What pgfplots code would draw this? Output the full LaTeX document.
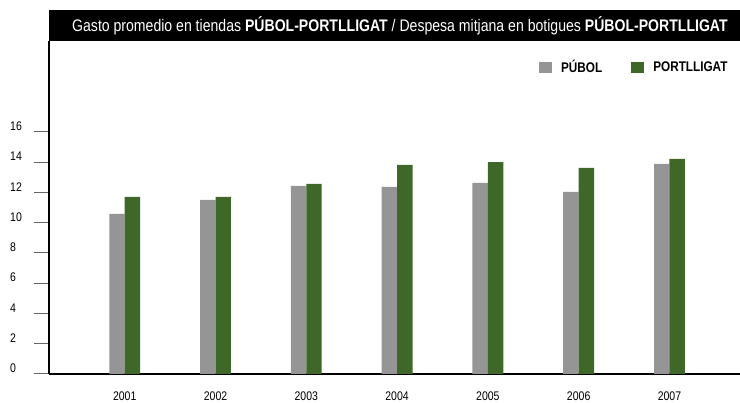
\documentclass[border=0pt]{standalone}
\usepackage{pgfplots}
\pgfplotsset{compat=1.18}
\usepackage{fontspec}
\setmainfont{Liberation Sans}[FakeStretch=0.84]
\definecolor{pgray}{RGB}{149,149,149}
\definecolor{pgreen}{RGB}{63,103,39}
\begin{document}
\begin{tikzpicture}[x=1pt,y=1pt]
\path[use as bounding box] (0,0) rectangle (740,403);
\fill[black] (49,362) rectangle (740,393);
\node[anchor=base west, inner sep=0pt, text=white, font=\fontsize{16.75}{20}\selectfont] at (72,371.3) {Gasto promedio en tiendas \textbf{PÚBOL-PORTLLIGAT} / Despesa mitjana en botigues \textbf{PÚBOL-PORTLLIGAT}};
\begin{axis}[
  at={(49pt,29pt)}, anchor=south west, scale only axis,
  width=691pt, height=333pt,
  xmin=-0.834, xmax=6.777, ymin=0, ymax=22,
  axis x line*=bottom, axis y line*=left,
  axis line style={black, line width=1.2pt},
  ytick={0,2,...,16},
  xtick={0,...,6},
  xticklabels={2001,2002,2003,2004,2005,2006,2007},
  xtick style={draw=none},
  ytick style={draw=black!60, line width=1pt},
  major tick length=15pt, tick align=outside,
  /pgf/number format/assume math mode=true,
  yticklabel style={font=\fontsize{12.5}{14}\selectfont, anchor=south west, inner sep=0pt, xshift=-24pt, yshift=1pt},
  xticklabel style={font=\fontsize{12.5}{14}\selectfont, anchor=north, inner sep=0pt, yshift=-3pt},
  legend columns=2,
  legend style={at={(0.709,0.949)}, anchor=north west, draw=none, fill=none, inner sep=0pt,
    font=\bfseries\fontsize{14}{16}\selectfont,
    /tikz/every even column/.append style={column sep=27pt},
    /tikz/every odd column/.append style={column sep=7pt}},
]
\addplot[ybar, bar width=0.17, bar shift=-0.085, fill=pgray, draw=none,
  legend image code/.code={\fill[pgray] (0pt,-5.5pt) rectangle (13pt,5.5pt);}]
  coordinates {(0,10.58) (1,11.5) (2,12.43) (3,12.36) (4,12.63) (5,12.03) (6,13.88)};
\addplot[ybar, bar width=0.17, bar shift=0.085, fill=pgreen, draw=none,
  legend image code/.code={\fill[pgreen] (0pt,-5.5pt) rectangle (13pt,5.5pt);}]
  coordinates {(0,11.7) (1,11.7) (2,12.56) (3,13.82) (4,14.0) (5,13.62) (6,14.21)};
\legend{PÚBOL, PORTLLIGAT}
\end{axis}
\end{tikzpicture}
\end{document}
